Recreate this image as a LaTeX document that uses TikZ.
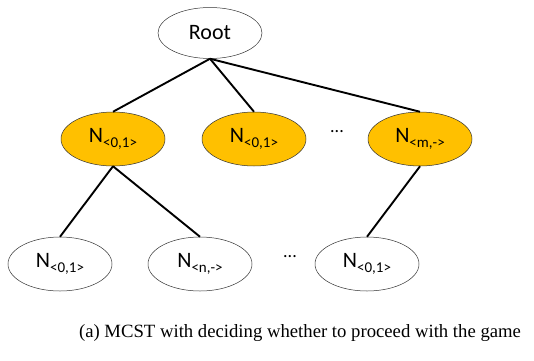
\documentclass[tikz,border=0pt]{standalone}
\usepackage{fontspec}
\setmainfont{Liberation Serif}
\newfontfamily\calfont{Carlito}
\usetikzlibrary{shapes.geometric}
\definecolor{gold}{HTML}{FFC000}
\newcommand{\nlabel}[1]{N\raisebox{-0.45ex}{\fontsize{15}{15}\selectfont #1}}

\begin{document}
\begin{tikzpicture}[x=1pt,y=1pt]
    \tikzset{tree node/.style={ellipse,draw=black!80,line width=0.5pt,minimum width=104pt,minimum height=54pt,inner sep=0pt,font=\calfont\fontsize{22}{22}\selectfont},
        chosen/.style={tree node,fill=gold},
        free/.style={tree node,fill=white},
        branch/.style={line width=1.9pt,draw=black}}
    \useasboundingbox (0,0) rectangle (534,360);
    \node[free,minimum height=51pt] (root) at (210,327) {Root};
    \node[chosen] (n1) at (113,221) {\nlabel{<0,1>}};
    \node[chosen] (n2) at (254,221) {\nlabel{<0,1>}};
    \node[chosen] (n3) at (420,221) {\nlabel{<m,->}};
    \node[font=\calfont\fontsize{18}{18}\selectfont] (dots1) at (337,228) {...};
    \node[free] (l1) at (60,96) {\nlabel{<0,1>}};
    \node[free] (l2) at (200,96) {\nlabel{<n,->}};
    \node[free] (l3) at (367,96) {\nlabel{<0,1>}};
    \node[font=\calfont\fontsize{18}{18}\selectfont] (dots2) at (290,103) {...};
    \draw[branch] (root.south) -- (n1.north);
    \draw[branch] (root.south) -- (n2.north);
    \draw[branch] (root.south) -- (n3.north);
    \draw[branch] (n1.south) -- (l1.north);
    \draw[branch] (n1.south) -- (l2.north);
    \draw[branch] (n3.south) -- (l3.north);
    \node[anchor=base,font=\fontsize{18.7}{18.7}\selectfont] (caption) at (300,23) {(a) MCST with deciding whether to proceed with the game};
\end{tikzpicture}
\end{document}
